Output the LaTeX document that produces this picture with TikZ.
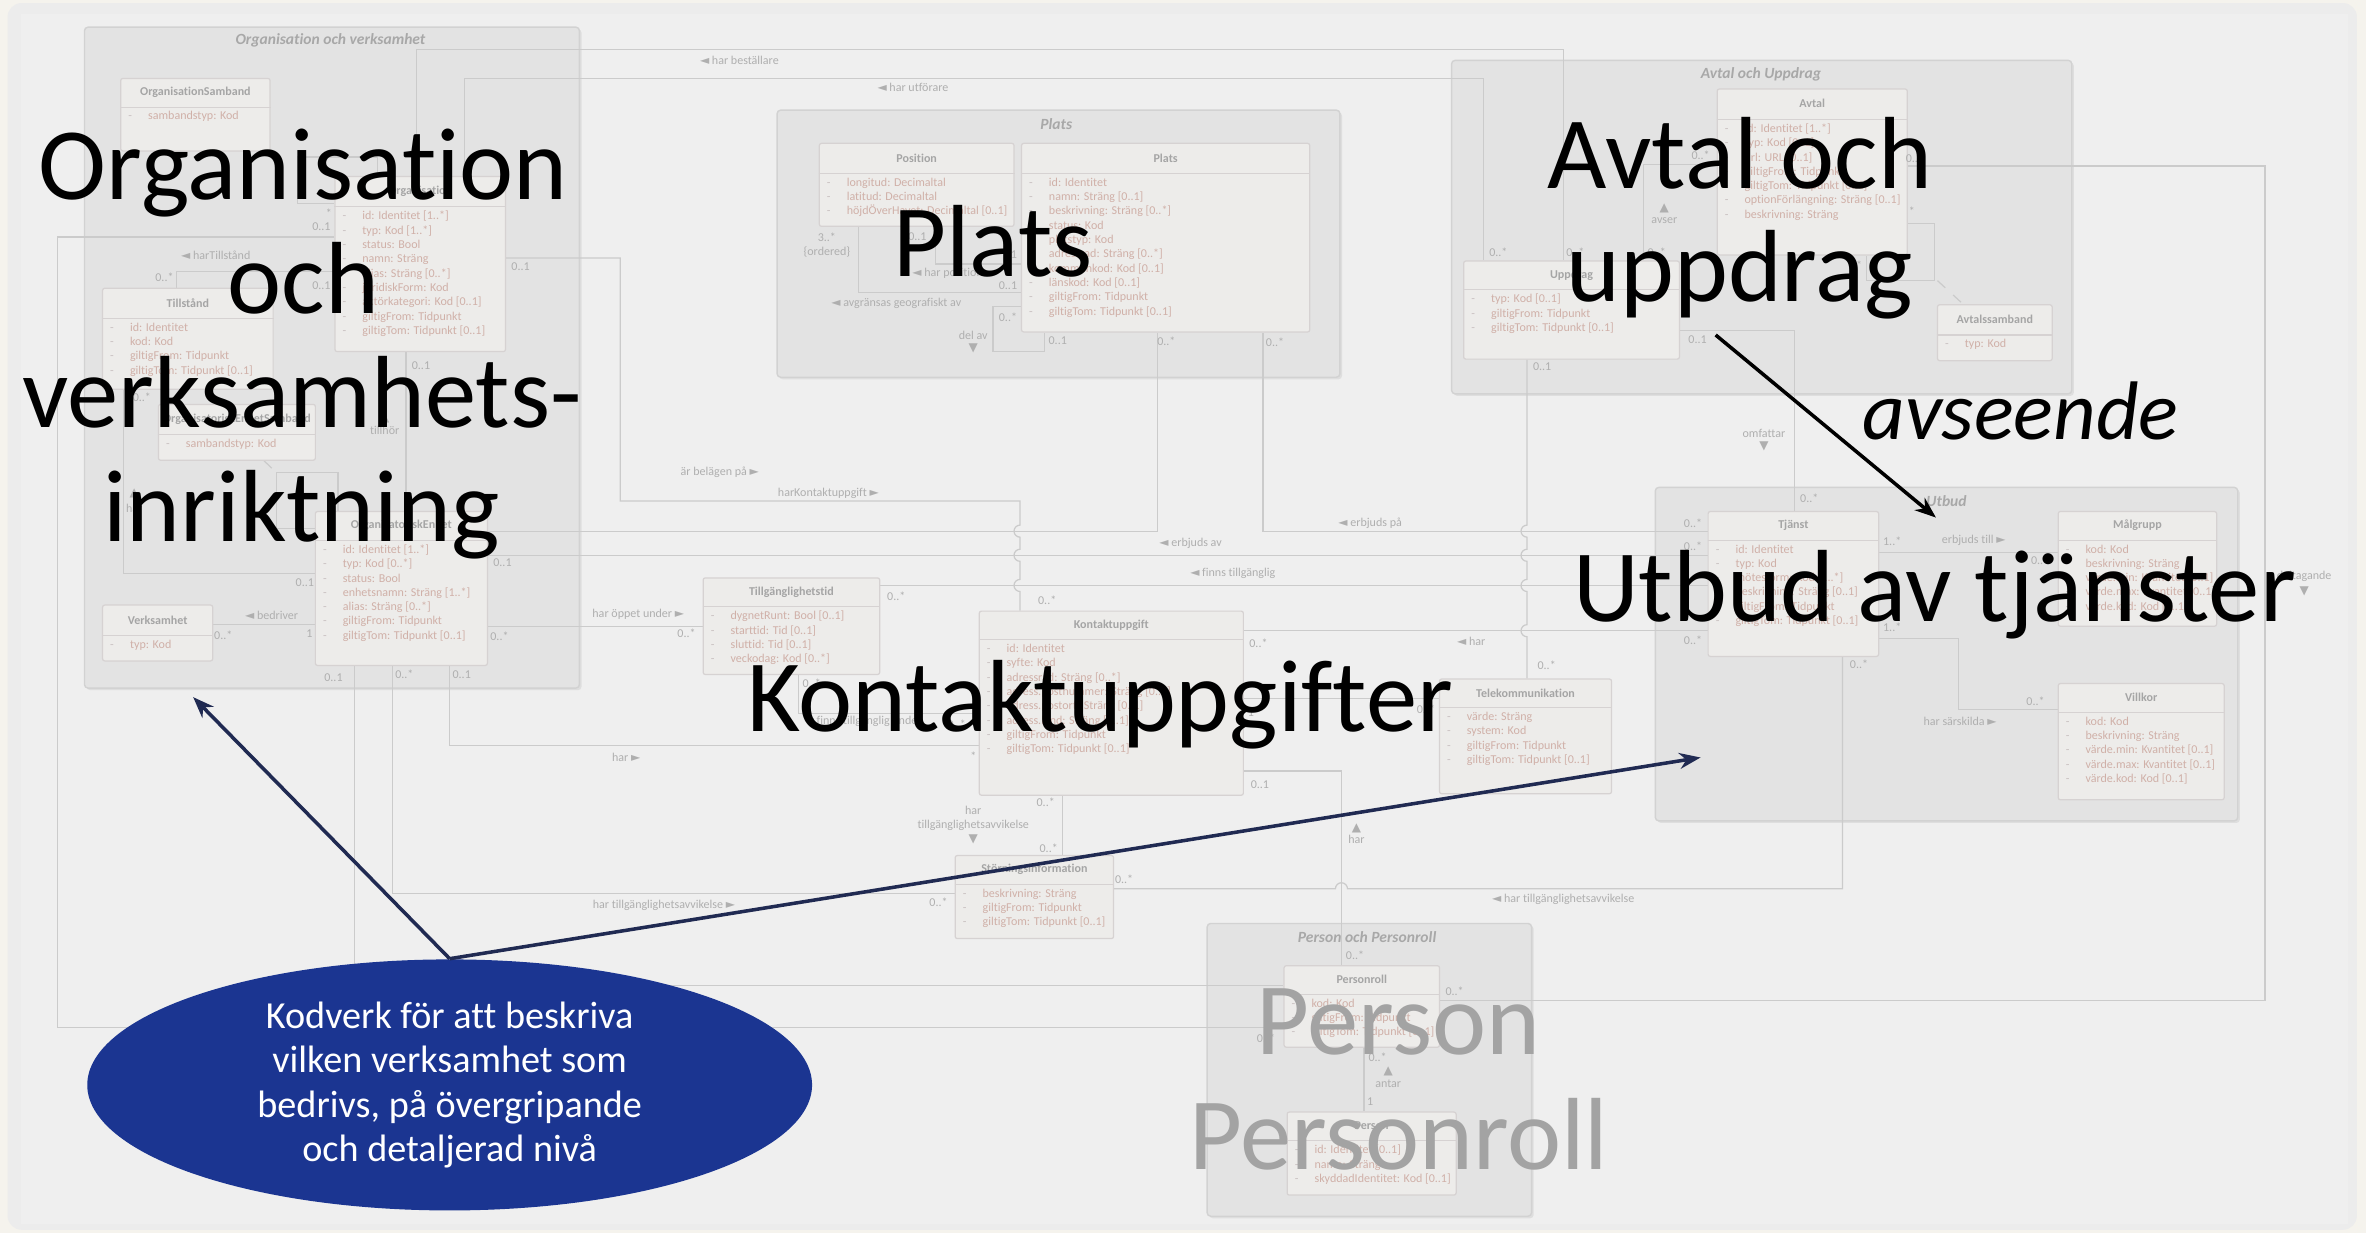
\documentclass[tikz,border=0pt]{standalone}
\usepackage{fontspec}
\setmainfont{Carlito}[Ligatures=NoCommon]
\newfontfamily\symf{DejaVu Sans}
\usetikzlibrary{arrows.meta, calc, fit, shapes.geometric, shadows}

\definecolor{ramfarg}{RGB}{245,243,237}
\definecolor{bakgrund}{RGB}{236,236,236}
\definecolor{bildyta}{RGB}{239,239,239}
\definecolor{paketfyll}{RGB}{227,227,227}
\definecolor{paketlinje}{RGB}{210,210,210}
\definecolor{paketnamnfarg}{RGB}{168,168,168}
\definecolor{klassfyll}{RGB}{237,236,234}
\definecolor{klasslinje}{RGB}{214,210,210}
\definecolor{klassnamnfarg}{RGB}{165,165,165}
\definecolor{attrfarg}{RGB}{208,176,168}
\definecolor{streckfarg}{RGB}{200,192,192}
\definecolor{linjefarg}{RGB}{203,203,203}
\definecolor{etikettfarg}{RGB}{175,175,175}
\definecolor{kodbla}{RGB}{27,53,145}
\definecolor{pilbla}{RGB}{32,42,82}
\definecolor{persongra}{RGB}{163,163,163}

\pgfdeclarelayer{paketlager}
\pgfdeclarelayer{linjelager}
\pgfsetlayers{paketlager,linjelager,main}

\newcommand{\tvanster}{{\symf ◄}}
\newcommand{\thoger}{{\symf ►}}
\newcommand{\tupp}{{\symf ▲}}
\newcommand{\tned}{{\symf ▼}}
\newcommand{\streck}{\makebox[5.6pt][l]{\textcolor{streckfarg}{-}}}

% klass: namn, hoerna1, hoerna2, y for rubrikens underkant, rubrik, attribut
\newcommand{\klass}[6]{%
  \node[klass, fit={#2 #3}] (#1) {};
  \draw[klassdel] (#1.west |- 0,#4) -- (#1.east |- 0,#4);
  \node[klassnamn] (#1-namn) at ($(#1.north)!0.5!(#1.north |- 0,#4)$) {#5};
  \node[attr] (#1-attr) at ($(#1.west |- 0,#4)+(5,2.5)$) {#6};
}

\tikzset{
  paket/.style={draw=paketlinje, fill=paketfyll, line width=0.4pt, rounded corners=1pt, inner sep=0pt,
    drop shadow={opacity=0.15, shadow xshift=0.6pt, shadow yshift=-0.6pt}},
  paketnamn/.style={font=\fontsize{4.4}{5}\selectfont\bfseries\itshape, text=paketnamnfarg, inner sep=0pt},
  klass/.style={draw=klasslinje, fill=klassfyll, line width=0.35pt, rounded corners=0.6pt, inner sep=0pt},
  klassdel/.style={draw=klasslinje, line width=0.35pt},
  klassnamn/.style={font=\fontsize{3.4}{4}\selectfont\bfseries, text=klassnamnfarg, inner sep=0pt},
  attr/.style={font=\fontsize{3.4}{4.05}\selectfont, text=attrfarg, align=left, inner sep=0pt, anchor=north west},
  assoc/.style={draw=linjefarg, line width=0.35pt},
  etikett/.style={font=\fontsize{3.4}{4}\selectfont, text=etikettfarg, inner sep=0pt},
  stortext/.style={font=\fontsize{29}{32}\selectfont, text=black, inner sep=0pt, anchor=base},
  persontext/.style={stortext, text=persongra},
  kodverk/.style={ellipse, fill=kodbla, minimum width=205pt, minimum height=71pt, inner sep=0pt,
    text=white, align=center, font=\fontsize{10.8}{12.6}\selectfont},
  kodpil/.style={draw=pilbla, line width=1pt, -{Stealth[length=6pt, width=4.5pt]}},
  avspil/.style={draw=black, line width=1pt, -{Stealth[length=6pt, width=4.5pt]}},
}

\begin{document}
\begin{tikzpicture}[x=0.015cm, y=-0.015cm]
\useasboundingbox (0,0) rectangle (1568,817);

\begin{pgfonlayer}{paketlager}
\fill[ramfarg] (0,0) rectangle (1568,817);
\fill[bakgrund, rounded corners=4pt] (5,2) rectangle (1562,815);
\fill[bildyta] (14,9) rectangle (1556,811);
% paket
\node[paket, fit={(56,18) (384,456)}] (orgpaket) {};
\node[paket, fit={(515,73) (888,250)}] (platspaket) {};
\node[paket, fit={(962,40) (1373,261)}] (avtalpaket) {};
\node[paket, fit={(1097,323) (1483,544)}] (utbudpaket) {};
\node[paket, fit={(800,612) (1015,806)}] (personpaket) {};
\end{pgfonlayer}

\node[paketnamn] (orgpaket-namn) at (219,27) {Organisation och verksamhet};
\node[paketnamn] (platspaket-namn) at (700,82) {Plats};
\node[paketnamn] (avtalpaket-namn) at (1167,49) {Avtal och Uppdrag};
\node[paketnamn] (utbudpaket-namn) at (1290,332) {Utbud};
\node[paketnamn] (personpaket-namn) at (906,621) {Person och Personroll};

% klasser
\klass{orgsamb}{(80,52)}{(179,100)}{71}{OrganisationSamband}{\streck sambandstyp: Kod}
\klass{org}{(222,117)}{(335,233)}{137}{Organisation}{\streck id: Identitet [1..*]\\\streck typ: Kod [1..*]\\\streck status: Bool\\\streck namn: Sträng\\\streck alias: Sträng [0..*]\\\streck juridiskForm: Kod\\\streck aktörkategori: Kod [0..1]\\\streck giltigFrom: Tidpunkt\\\streck giltigTom: Tidpunkt [0..1]}
\klass{tillst}{(68,191)}{(181,258)}{211}{Tillstånd}{\streck id: Identitet\\\streck kod: Kod\\\streck giltigFrom: Tidpunkt\\\streck giltigTom: Tidpunkt [0..1]}
\klass{oesamb}{(105,268)}{(209,305)}{288}{OrganisatoriskEnhetSamband}{\streck sambandstyp: Kod}
\klass{oe}{(209,339)}{(323,441)}{358}{OrganisatoriskEnhet}{\streck id: Identitet [1..*]\\\streck typ: Kod [0..*]\\\streck status: Bool\\\streck enhetsnamn: Sträng [1..*]\\\streck alias: Sträng [0..*]\\\streck giltigFrom: Tidpunkt\\\streck giltigTom: Tidpunkt [0..1]}
\klass{verks}{(68,401)}{(141,438)}{421}{Verksamhet}{\streck typ: Kod}
\klass{position}{(543,95)}{(672,150)}{115}{Position}{\streck longitud: Decimaltal\\\streck latitud: Decimaltal\\\streck höjdÖverHavet: Decimaltal [0..1]}
\klass{plats}{(677,95)}{(868,220)}{115}{Plats}{\streck id: Identitet\\\streck namn: Sträng [0..1]\\\streck beskrivning: Sträng [0..*]\\\streck status: Kod\\\streck platstyp: Kod\\\streck adressrad: Sträng [0..*]\\\streck kommunkod: Kod [0..1]\\\streck länskod: Kod [0..1]\\\streck giltigFrom: Tidpunkt\\\streck giltigTom: Tidpunkt [0..1]}
\klass{avtal}{(1138,59)}{(1264,169)}{79}{Avtal}{\streck id: Identitet [1..*]\\\streck typ: Kod [0..1]\\\streck url: URL [0..1]\\\streck giltigFrom: Tidpunkt\\\streck giltigTom: Tidpunkt [0..1]\\\streck optionFörlängning: Sträng [0..1]\\\streck beskrivning: Sträng}
\klass{uppdrag}{(970,173)}{(1113,238)}{192}{Uppdrag}{\streck typ: Kod [0..1]\\\streck giltigFrom: Tidpunkt\\\streck giltigTom: Tidpunkt [0..1]}
\klass{avtsamb}{(1284,202)}{(1360,239)}{222}{Avtalssamband}{\streck typ: Kod}
\klass{tjanst}{(1132,339)}{(1245,435)}{358}{Tjänst}{\streck id: Identitet\\\streck typ: Kod\\\streck mötesform: Kod [1..*]\\\streck beskrivning: Sträng [0..1]\\\streck giltigFrom: Tidpunkt\\\streck giltigTom: Tidpunkt [0..1]}
\klass{malgrupp}{(1364,339)}{(1469,415)}{358}{Målgrupp}{\streck kod: Kod\\\streck beskrivning: Sträng\\\streck värde.min: Kvantitet [0..1]\\\streck värde.max: Kvantitet [0..1]\\\streck värde.kod: Kod [0..1]}
\klass{villkor}{(1364,453)}{(1474,530)}{472}{Villkor}{\streck kod: Kod\\\streck beskrivning: Sträng\\\streck värde.min: Kvantitet [0..1]\\\streck värde.max: Kvantitet [0..1]\\\streck värde.kod: Kod [0..1]}
\klass{kontakt}{(649,405)}{(824,527)}{424}{Kontaktuppgift}{\streck id: Identitet\\\streck syfte: Kod\\\streck adressrad: Sträng [0..*]\\\streck adress.postnummer: Sträng [0..1]\\\streck adress.postort: Sträng [0..1]\\\streck adress.land: Sträng [0..1]\\\streck giltigFrom: Tidpunkt\\\streck giltigTom: Tidpunkt [0..1]}
\klass{tillgtid}{(466,383)}{(583,447)}{402}{Tillgänglighetstid}{\streck dygnetRunt: Bool [0..1]\\\streck starttid: Tid [0..1]\\\streck sluttid: Tid [0..1]\\\streck veckodag: Kod [0..*]}
\klass{telekom}{(954,450)}{(1068,526)}{469}{Telekommunikation}{\streck värde: Sträng\\\streck system: Kod\\\streck giltigFrom: Tidpunkt\\\streck giltigTom: Tidpunkt [0..1]}
\klass{storning}{(633,567)}{(738,622)}{586}{Störningsinformation}{\streck beskrivning: Sträng\\\streck giltigFrom: Tidpunkt\\\streck giltigTom: Tidpunkt [0..1]}
\klass{personroll}{(851,640)}{(954,694)}{659}{Personroll}{\streck kod: Kod\\\streck giltigFrom: Tidpunkt\\\streck giltigTom: Tidpunkt [0..1]}
\klass{person}{(853,737)}{(965,792)}{756}{Person}{\streck id: Identitet [0..1]\\\streck namn: Sträng\\\streck skyddadIdentitet: Kod [0..1]}

% associationer
\begin{pgfonlayer}{linjelager}
\draw[assoc] (org.north -| 276,0) |- (1036,33) -- (uppdrag.north -| 1036,0);
\draw[assoc] (org.north -| 308,0) |- (983,52) -- (uppdrag.north -| 983,0);
\draw[assoc] (org.north -| 250,0) |- (197,104) |- (org.west |- 0,135);
\draw[assoc] (org.west |- 0,157) -| (38,681) -- (personroll.west |- 0,681);
\draw[assoc] (tillst.north -| 117,0) |- (org.west |- 0,180);
\draw[assoc] (tillst.south -| 82,0) |- (oe.west |- 0,380);
\draw[assoc] (org.south -| 269,0) -- (oe.north -| 269,0);
\draw[assoc] (oe.north -| 224,0) |- (183,313) |- (oe.west |- 0,350);
\draw[assoc, dashed] (oesamb.south -| 175,0) -- (183,313);
\draw[assoc] (verks.east |- 0,414) -- (oe.west |- 0,414);
\draw[assoc] (oe.east |- 0,352) -| (plats.south -| 767,0);
\draw[assoc] (oe.east |- 0,368) -- (tjanst.west |- 0,368);
\draw[assoc] (tillgtid.east |- 0,388) -- (tjanst.west |- 0,388);
\draw[assoc] (oe.east |- 0,415) -- (tillgtid.west |- 0,415);
\draw[assoc] (org.east |- 0,171) -| (411,332) -| (676,348)
  arc[start angle=-90, delta angle=-180, radius=4] -- (676,364)
  arc[start angle=-90, delta angle=-180, radius=4] -- (676,384)
  arc[start angle=-90, delta angle=-180, radius=4] -- (kontakt.north -| 676,0);
\draw[assoc] (oe.south -| 298,0) |- (kontakt.west |- 0,494);
\draw[assoc] (oe.south -| 260,0) |- (storning.west |- 0,592);
\draw[assoc] (oe.south -| 235,0) |- (personroll.west |- 0,653);
% plats
\draw[assoc] (position.south -| 569,0) |- (plats.west |- 0,194);
\draw[assoc] (position.south -| 620,0) |- (plats.west |- 0,175);
\draw[assoc] (plats.west |- 0,203) -| (658,233) -| (plats.south -| 692,0);
\draw[assoc] (plats.south -| 837,0) |- (tjanst.west |- 0,352);
% kontaktuppgift
\draw[assoc] (tillgtid.south -| 529,0) |- (kontakt.west |- 0,473);
\draw[assoc] (kontakt.east |- 0,418) -- (tjanst.west |- 0,418);
\draw[assoc] (kontakt.east |- 0,463) -- (telekom.west |- 0,463);
\draw[assoc] (kontakt.east |- 0,511) -| (personroll.north -| 889,0);
\draw[assoc] (kontakt.south -| 704,0) -- (storning.north -| 704,0);
\draw[assoc] (storning.east |- 0,589) -- (885,589)
  arc[start angle=180, end angle=360, radius=4] -| (tjanst.south -| 1221,0);
% avtal och uppdrag
\draw[assoc] (uppdrag.north -| 1089,0) |- (avtal.west |- 0,109);
\draw[assoc] (avtal.east |- 0,148) -| (1282,186) -| (avtal.south -| 1237,0);
\draw[assoc, dashed] (1284,186) -- (avtsamb.north -| 1301,0);
\draw[assoc] (uppdrag.east |- 0,219) -| (tjanst.north -| 1189,0);
\draw[assoc] (uppdrag.south -| 1012,0) -- (1012,348)
  arc[start angle=-90, delta angle=-180, radius=4] -- (1012,364)
  arc[start angle=-90, delta angle=-180, radius=4] -- (1012,384)
  arc[start angle=-90, delta angle=-180, radius=4] -- (1012,414)
  arc[start angle=-90, delta angle=-180, radius=4] -- (telekom.north -| 1012,0);
\draw[assoc] (avtal.east |- 0,110) -| (1501,663) -- (personroll.east |- 0,663);
% utbud
\draw[assoc] (tjanst.east |- 0,366) -- (malgrupp.west |- 0,366);
\draw[assoc] (tjanst.east |- 0,423) -| (1298,470) -- (villkor.west |- 0,470);
% person
\draw[assoc] (personroll.south -| 904,0) -- (person.north -| 904,0);
\end{pgfonlayer}

% multipliciteter
\foreach \x/\y/\t [count=\i] in {109/184/0..*, 213/189/0..1, 218/141/*, 213/150/0..1, 94/263/0..*,
    202/386/0..1, 279/242/0..1, 148/421/0..*, 205/420/1, 221/449/0..1, 268/447/0..*, 306/447/0..1,
    333/373/0..1, 331/422/0..*, 345/177/0..1, 548/157/3..*, 608/157/0..1, 672/169/1, 668/189/0..1,
    668/210/0..*, 701/226/0..1, 773/226/0..*, 845/227/0..*, 594/395/0..*, 694/398/0..*, 455/420/0..*,
    834/426/0..*, 829/472/1, 945/470/0..*, 1025/441/0..*, 1022/243/0..1, 538/453/0..*, 634/480/0..*,
    645/501/*, 835/520/0..1, 693/532/0..*, 695/562/0..*, 622/598/0..*, 745/583/0..*, 1232/440/0..*,
    898/633/0..*, 839/688/0..*, 964/657/0..*, 913/701/0..*, 908/730/1, 1044/167/0..*, 993/167/0..*,
    1098/167/0..*, 1127/103/0..*, 1267/140/*, 1232/176/*, 1269/105/0..*, 1125/225/0..1, 1199/330/0..*,
    1122/347/0..*, 1122/362/0..*, 1122/424/0..*, 1254/359/1..*, 1352/371/0..*, 1254/416/1..*,
    1349/465/0..*}
  \node[etikett] (mult\i) at (\x,\y) {\t};

% rollnamn
\foreach \x/\y/\t [count=\i] in {143/169/{\tvanster\ harTillstånd}, 89/327/\tupp, 89/337/har,
    255/277/\tupp, 255/285/tillhör, 180/408/{\tvanster\ bedriver}, 490/40/{\tvanster\ har beställare},
    605/58/{\tvanster\ har utförare}, 548/167/\{ordered\}, 628/181/{\tvanster\ har position},
    594/201/{\tvanster\ avgränsas geografiskt av}, 645/222/del av, 645/231/\tned,
    477/313/{är belägen på \thoger}, 549/327/{harKontaktuppgift \thoger}, 908/347/{\tvanster\ erbjuds på},
    789/360/{\tvanster\ erbjuds av}, 817/380/{\tvanster\ finns tillgänglig}, 423/407/{har öppet under \thoger},
    975/425/{\tvanster\ har}, 572/478/{\tvanster\ finns tillgänglig under}, 415/502/{har \thoger},
    645/537/har, 645/547/tillgänglighetsavvikelse, 645/556/\tned, 899/549/\tupp, 899/556/har,
    440/600/{har tillgänglighetsavvikelse \thoger}, 1036/596/{\tvanster\ har tillgänglighetsavvikelse},
    920/710/\tupp, 920/718/antar, 1103/138/\tupp, 1103/146/avser, 1169/287/omfattar, 1169/296/\tned,
    1308/358/{erbjuds till \thoger}, 1299/478/{har särskilda \thoger}, 1527/382/deltagande, 1527/392/\tned}
  \node[etikett] (roll\i) at (\x,\y) {\t};

% stora rubriker
\node[stortext] (orgtext1) at (201,132.5) {Organisation};
\node[stortext] (orgtext2) at (201,208) {och};
\node[stortext] (orgtext3) at (200,283.5) {verksamhets-};
\node[stortext] (orgtext4) at (200,359) {inriktning};
\node[stortext] (platstext) at (658,183) {Plats};
\node[stortext] (avtaltext1) at (1153,125) {Avtal och};
\node[stortext] (avtaltext2) at (1153,200) {uppdrag};
\node[stortext, font=\fontsize{23.5}{28}\selectfont\itshape] (avsetext) at (1339,291) {avseende};
\node[stortext] (utbudtext) at (1282,412) {Utbud av tjänster};
\node[stortext] (kontakttext) at (729,485) {Kontaktuppgifter};
\node[persontext] (persontext1) at (927,699) {Person};
\node[persontext] (persontext2) at (927,775) {Personroll};

% kodverk
\node[kodverk] (kodverk) at (298,719) {Kodverk för att beskriva\\vilken verksamhet som\\bedrivs, på övergripande\\och detaljerad nivå};
\coordinate (kodmalA) at (128,462);
\coordinate (kodmalB) at (1127,502);
\draw[kodpil] (kodverk.north) -- (kodmalA);
\draw[kodpil] (kodverk.north) -- (kodmalB);

\coordinate (avsstart) at (1137,222);
\coordinate (avsmal) at (1283,343);
\draw[avspil] (avsstart) -- (avsmal);
\end{tikzpicture}
\end{document}
